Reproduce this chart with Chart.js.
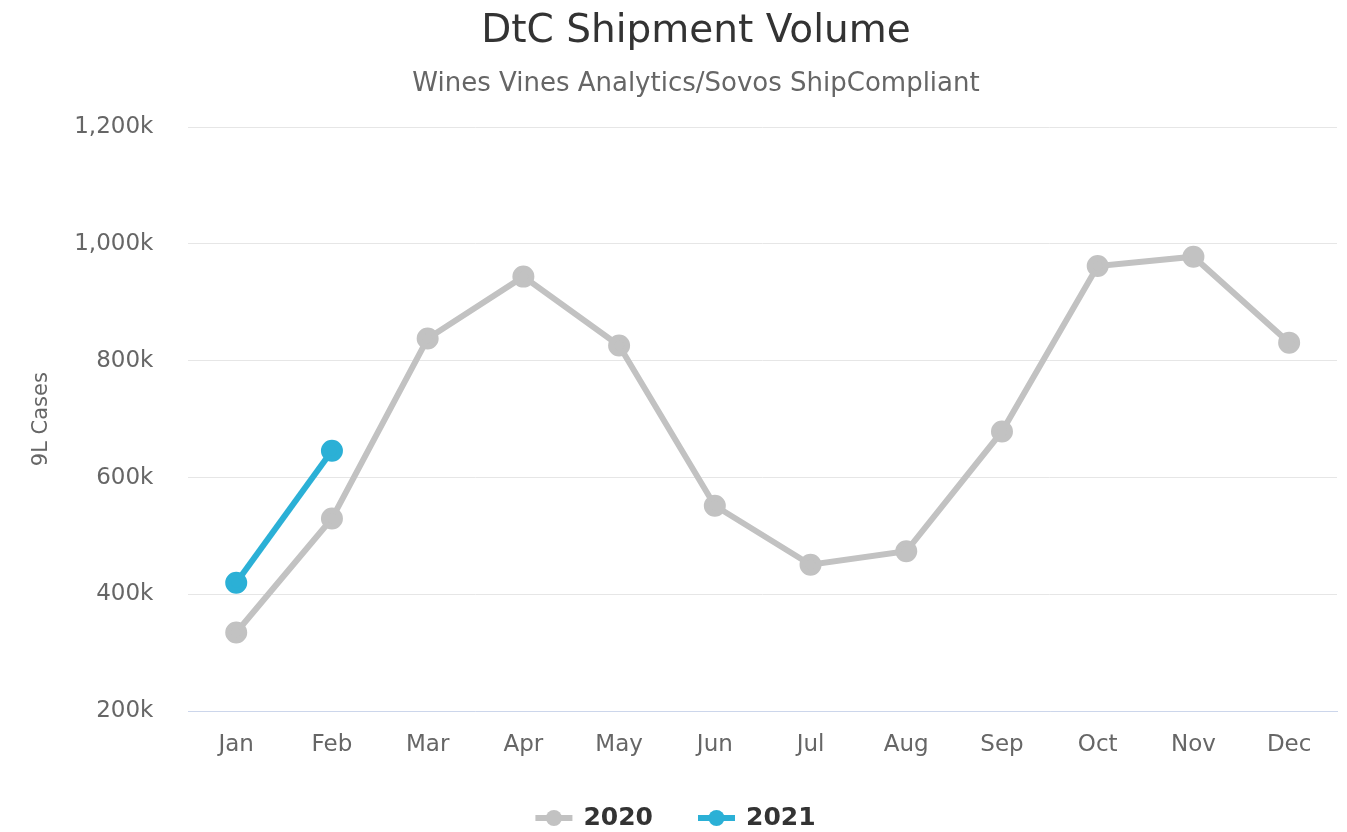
<!DOCTYPE html>
<html>
<head>
<meta charset="utf-8">
<script src="https://cdn.jsdelivr.net/npm/chart.js@4"></script>
<style>
  html, body { margin: 0; padding: 0; background: #fff; }
  #wrap { width: 1347px; height: 832px; }
</style>
</head>
<body>
<div id="wrap"><canvas id="dtcChart"></canvas></div>
<script>
const months = ['Jan', 'Feb', 'Mar', 'Apr', 'May', 'Jun', 'Jul', 'Aug', 'Sep', 'Oct', 'Nov', 'Dec'];
const volume2020 = [335000, 530000, 838000, 944000, 826000, 552000, 451000, 474000, 679000, 962000, 978000, 831000];
const volume2021 = [420000, 646000];
const yTicks = [200000, 400000, 600000, 800000, 1000000, 1200000];

const grey = '#c2c2c2';
const blue = '#2bb0d6';
const fontName = 'DejaVu Sans';

// bottom legend: thick line with a dot, then the bold label
const bottomLegend = {
  id: 'bottomLegend',
  afterDraw(chart) {
    const g = chart.ctx;
    const y = 818;
    const markW = 37, gap = 11, itemGap = 45;
    g.save();
    g.font = 'bold 25px "' + fontName + '"';
    g.textBaseline = 'middle';
    const items = chart.data.datasets.map(ds => ({ text: ds.label, color: ds.borderColor, w: g.measureText(ds.label).width }));
    const total = items.reduce((s, it) => s + markW + gap + it.w, 0) + itemGap * (items.length - 1);
    let x = (chart.width - total) / 2 + 2;
    items.forEach(it => {
      g.strokeStyle = it.color;
      g.lineWidth = 6;
      g.beginPath(); g.moveTo(x, y); g.lineTo(x + markW, y); g.stroke();
      g.fillStyle = it.color;
      g.beginPath(); g.arc(x + markW / 2, y, 8, 0, Math.PI * 2); g.fill();
      g.fillStyle = '#333333';
      g.fillText(it.text, x + markW + gap, y);
      x += markW + gap + it.w + itemGap;
    });
    g.restore();
  }
};

const ctx = document.getElementById('dtcChart').getContext('2d');
const chart = new Chart(ctx, {
  type: 'line',
  data: {
    labels: months,
    datasets: [{
      label: '2020',
      data: volume2020,
      borderColor: grey,
      backgroundColor: grey,
      borderWidth: 6,
      pointRadius: 8,
      pointHoverRadius: 8,
      tension: 0
    }, {
      label: '2021',
      data: volume2021,
      borderColor: blue,
      backgroundColor: blue,
      borderWidth: 6,
      pointRadius: 8,
      pointHoverRadius: 8,
      tension: 0
    }]
  },
  options: {
    responsive: true,
    maintainAspectRatio: false,
    animation: false,
    layout: { autoPadding: false, padding: { left: 55, right: 10, top: 4, bottom: 53 } },
    plugins: {
      title: {
        display: true,
        text: 'DtC Shipment Volume',
        color: '#333333',
        font: { family: fontName, size: 39, weight: 'normal' },
        padding: { top: 4, bottom: 14 }
      },
      subtitle: {
        display: true,
        text: 'Wines Vines Analytics/Sovos ShipCompliant',
        color: '#666666',
        font: { family: fontName, size: 26 },
        padding: { bottom: 27 }
      },
      legend: { display: false },
      tooltip: { enabled: false }
    },
    scales: {
      x: {
        offset: true,
        grid: { display: false, drawTicks: false },
        border: { color: '#ccd6eb', width: 1 },
        ticks: { color: '#666666', font: { family: fontName, size: 23 }, padding: 20 }
      },
      y: {
        min: 200000,
        max: 1200000,
        afterBuildTicks: axis => { axis.ticks = yTicks.map(v => ({ value: v })); },
        grid: { color: '#e6e6e6', lineWidth: 1, drawTicks: false },
        border: { display: false },
        ticks: {
          color: '#666666',
          font: { family: fontName, size: 23 },
          padding: 35,
          callback: v => (v / 1000).toLocaleString('en-US') + 'k'
        },
        title: {
          display: true,
          text: '9L Cases',
          color: '#666666',
          font: { family: fontName, size: 21 },
          padding: { top: -26, bottom: -15 }
        }
      }
    }
  },
  plugins: [bottomLegend]
});
</script>
</body>
</html>
